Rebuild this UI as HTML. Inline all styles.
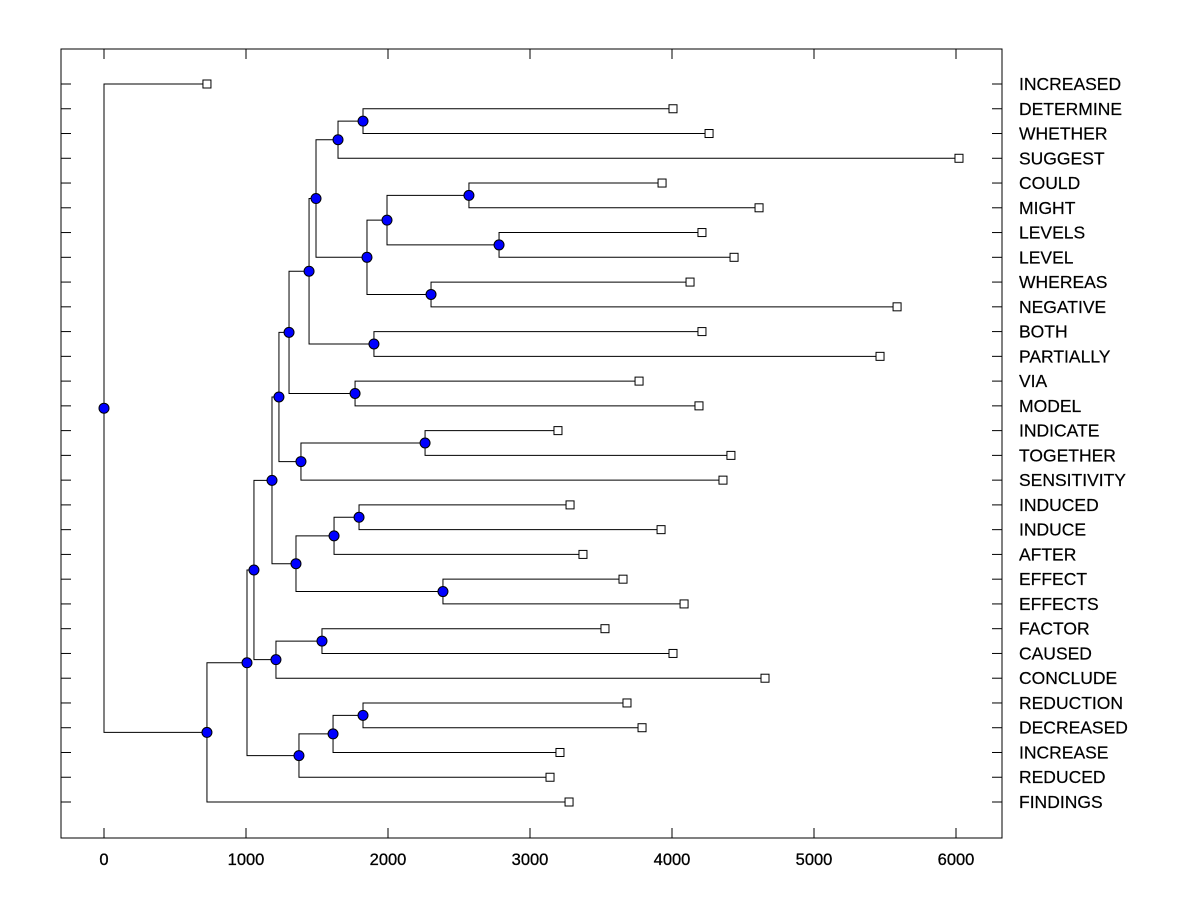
<!DOCTYPE html>
<html><head><meta charset="utf-8"><style>
body{margin:0;background:#fff}
svg{display:block;font-family:"Liberation Sans",Arial,sans-serif}
</style></head><body>
<svg id="chart" width="1200" height="900"></svg>
<script>
const labels=["INCREASED","DETERMINE","WHETHER","SUGGEST","COULD","MIGHT","LEVELS","LEVEL","WHEREAS","NEGATIVE","BOTH","PARTIALLY","VIA","MODEL","INDICATE","TOGETHER","SENSITIVITY","INDUCED","INDUCE","AFTER","EFFECT","EFFECTS","FACTOR","CAUSED","CONCLUDE","REDUCTION","DECREASED","INCREASE","REDUCED","FINDINGS"];
const leafValues=[725,4007,4261,6021,3930,4613,4211,4437,4127,5585,4211,5465,3768,4190,3197,4415,4359,3282,3923,3373,3655,4085,3528,4007,4655,3683,3789,3211,3141,3275];
// merges: children refer to leaves as "Lk" or earlier merges as "Nk"
const mergeLeft =["L1","N0","L4","L6","N2","L8","N4","L10","N1","N8","L12","N9","L14","N12","N11","L17","N15","L20","N16","N14","L22","N20","N19","L25","N23","N24","N22","N26","L0"];
const mergeRight=["L2","L3","L5","L7","N3","L9","N5","L11","N6","N7","L13","N10","L15","L16","N13","L18","L19","L21","N17","N18","L23","L24","N21","L26","L27","L28","N25","L29","N27"];
const mergeHeight=[1824,1648,2570,2782,1993,2303,1852,1901,1493,1444,1768,1303,2261,1387,1232,1796,1620,2387,1352,1183,1535,1211,1056,1824,1613,1373,1007,725,0];
const xTicks=[0,1000,2000,3000,4000,5000,6000];

const svg=document.getElementById('chart');
const NS='http://www.w3.org/2000/svg';
const L=61,R=1002,T=49,B=838;
const xS=v=>104+v*0.142;
const yS=i=>84+i*(718/29);
function mk(tag,attrs,parent){const e=document.createElementNS(NS,tag);for(const k in attrs)e.setAttribute(k,attrs[k]);(parent||svg).appendChild(e);return e;}

const frame=mk('rect',{x:L,y:T,width:R-L,height:B-T,fill:'none',stroke:'#000','stroke-width':1});



xTicks.forEach(t=>{
  const x=xS(t);
  const tk=mk('line',{x1:x,y1:B,x2:x,y2:B-10,stroke:'#000'});
  
  
  const tt=mk('line',{x1:x,y1:T,x2:x,y2:T+10,stroke:'#000'});
  
  
  const tx=mk('text',{x:x,y:865,'text-anchor':'middle','font-size':16.5,'stroke':'#000','stroke-width':0.3});
  tx.textContent=t;
  
  
});

labels.forEach((lab,i)=>{
  const y=yS(i);
  const a=mk('line',{x1:L,y1:y,x2:L+10,y2:y,stroke:'#000'});
  
  
  const b=mk('line',{x1:R-10,y1:y,x2:R,y2:y,stroke:'#000'});
  
  
  const t=mk('text',{x:1019,y:y+6,'font-size':17.5,'stroke':'#000','stroke-width':0.2});
  t.textContent=lab;
  
  
});

const nodes=[];
function pos(ref){const k=+ref.slice(1);if(ref[0]==='L')return {x:xS(leafValues[k]),y:yS(k)};return nodes[k];}
const linesG=mk('g',{});


for(let m=0;m<mergeHeight.length;m++){
  const a=pos(mergeLeft[m]),b=pos(mergeRight[m]);
  const x=xS(mergeHeight[m]);
  const y=(a.y+b.y)/2;
  nodes.push({x,y});
  const p=mk('path',{d:`M${a.x},${a.y}H${x}V${b.y}H${b.x}`,fill:'none',stroke:'#000','stroke-width':1},linesG);
  
  
}
leafValues.forEach((v,i)=>{
  const r=mk('rect',{x:xS(v)-4,y:yS(i)-4,width:8,height:8,fill:'#fff',stroke:'#000'});
  
  
});
nodes.forEach(n=>{
  const c=mk('circle',{cx:n.x,cy:n.y,r:5,fill:'#0000ff',stroke:'#000'});
  
  
});
</script>
</body></html>
